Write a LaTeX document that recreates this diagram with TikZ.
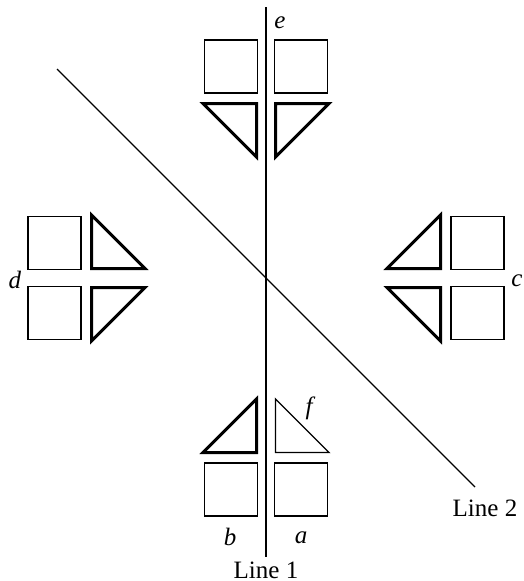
\documentclass[tikz,border=0pt]{standalone}
\usepackage{fontspec}
\setmainfont{Liberation Serif}
\begin{document}
\begin{tikzpicture}[x=1pt,y=1pt,
  sq/.style={draw=black, line width=1.3pt},
  tri/.style={draw=black, line width=3pt, line join=miter},
  trithin/.style={draw=black, line width=1.3pt, line join=miter},
  thinline/.style={draw=black, line width=1.3pt},
  thickline/.style={draw=black, line width=2.7pt},
  lbl/.style={font=\fontsize{25}{27}\selectfont\itshape, inner sep=0pt},
  captext/.style={font=\fontsize{25}{27}\selectfont, inner sep=0pt}]
\useasboundingbox (0,0) rectangle (524,-581);
\coordinate (O) at (266,-278);
\foreach \ang/\st in {0/tri,90/tri,180/trithin,270/tri} {
  \begin{scope}[shift={(O)}, rotate=\ang]
    \draw[sq] (8.5,185) rectangle (61.5,238);
    \draw[sq] (-8.5,185) rectangle (-61.5,238);
    \draw[tri] (9.5,174.5) -- (63,174.5) -- (9.5,121) -- cycle;
    \draw[\st] (-9.5,174.5) -- (-63,174.5) -- (-9.5,121) -- cycle;
  \end{scope}
}
% Line 1
\coordinate (l1top) at (266,-7);
\coordinate (l1bot) at (266,-557);
\coordinate (l1ta) at (266,-30);
\coordinate (l1ba) at (266,-520);
\draw[thinline] (l1top) -- (l1bot);
\draw[thickline] (l1ta) -- (l1ba);
% Line 2
\coordinate (l2a) at (57,-69);
\coordinate (l2b) at (475,-487);
\draw[thinline] (l2a) -- (l2b);
% labels
\node[lbl] (e) at (280,-23) {e};
\node[lbl] (d) at (15,-280) {d};
\node[lbl] (c) at (517,-281) {c};
\node[lbl] (f) at (309,-408) {f};
\node[lbl] (b) at (230,-537) {b};
\node[lbl] (a) at (301,-538) {a};
\node[captext] (line1) at (266,-570) {Line 1};
\node[captext] (line2) at (485,-508) {Line 2};
\end{tikzpicture}
\end{document}
